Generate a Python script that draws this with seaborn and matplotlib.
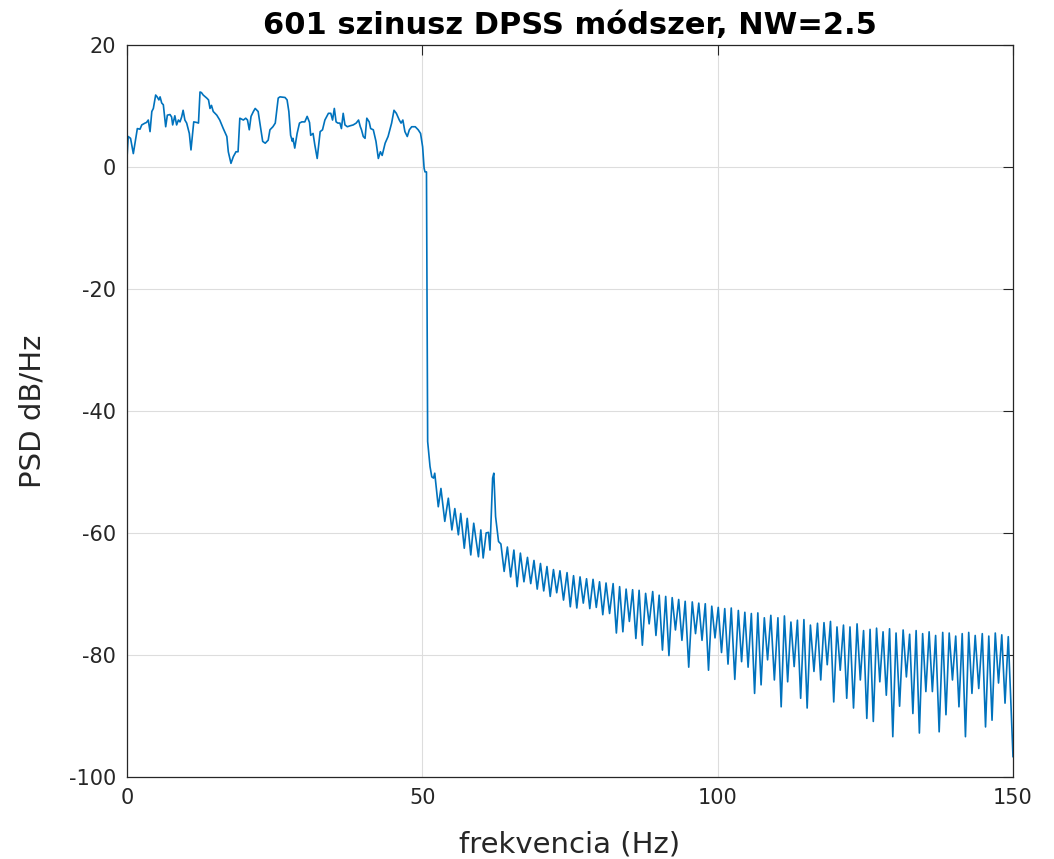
import numpy as np
import pandas as pd
import seaborn as sns
import matplotlib.pyplot as plt

# passband part (0-50 Hz)
flat_f = [0.0, 0.2, 0.6, 1.07, 1.35, 1.75, 2.2, 2.5, 3.05, 3.3, 3.6, 3.9, 4.2, 4.46, 4.85, 5.1, 5.4, 5.6,
          5.87, 6.15, 6.55, 6.83, 7.28, 7.55, 7.73, 8.1, 8.4, 8.7, 8.97, 9.25, 9.5, 9.8, 10.1, 10.55, 10.83,
          11.1, 11.3, 11.8, 12.1, 12.36, 12.6, 12.9, 13.5, 13.8, 14.05, 14.3, 14.6, 15.2, 15.7, 16.3, 16.9,
          17.15, 17.6, 18.0, 18.45, 18.8, 19.1, 19.7, 20.1, 20.4, 20.7, 21.0, 21.4, 21.7, 22.2, 22.6, 22.97,
          23.4, 23.9, 24.2, 24.7, 25.1, 25.6, 25.9, 26.75, 27.1, 27.4, 27.7, 28.0, 28.1, 28.4, 28.8, 29.2,
          29.6, 30.1, 30.5, 30.9, 31.1, 31.5, 31.8, 32.2, 32.7, 33.1, 33.5, 34.1, 34.5, 34.8, 35.1, 35.4,
          35.7, 36.05, 36.3, 36.6, 36.9, 37.3, 37.75, 38.3, 38.8, 39.2, 39.5, 39.7, 40.0, 40.3, 40.6, 41.0,
          41.25, 41.7, 42.15, 42.55, 42.9, 43.2, 43.7, 44.2, 44.8, 45.2, 45.6, 46.1, 46.4, 46.7, 47.05,
          47.45, 47.8, 48.2, 48.8, 49.3, 49.7, 50.05, 50.3, 50.45, 50.7]
flat_db = [1.5, 5.0, 4.7, 2.2, 3.9, 6.3, 6.2, 6.9, 7.2, 7.3, 7.7, 5.8, 9.1, 9.6, 11.8, 11.5, 11.0, 11.5,
           10.5, 10.2, 6.6, 8.5, 8.6, 8.2, 6.9, 8.4, 6.9, 7.7, 7.4, 8.2, 9.3, 7.7, 7.2, 5.5, 2.8,
           5.5, 7.4, 7.3, 7.2, 12.3, 12.2, 11.8, 11.3, 11.0, 9.6, 10.1, 9.1, 8.5, 7.7, 6.3, 5.0,
           2.5, 0.6, 1.7, 2.5, 2.5, 8.0, 7.7, 8.0, 7.7, 6.1, 8.3, 9.1, 9.6, 9.1, 6.6, 4.2,
           3.9, 4.4, 6.1, 6.6, 7.2, 11.3, 11.5, 11.4, 11.0, 9.1, 5.2, 4.2, 4.7, 3.1, 5.5, 7.2,
           7.4, 7.4, 8.3, 7.3, 5.2, 5.5, 3.6, 1.4, 5.8, 6.1, 7.7, 8.8, 8.8, 7.7, 9.6, 7.4,
           7.2, 7.2, 6.3, 8.8, 6.9, 6.6, 6.75, 6.9, 7.2, 7.7, 6.6, 6.1, 5.0, 4.7, 8.0, 7.4,
           6.3, 6.1, 4.2, 1.4, 2.5, 1.9, 3.9, 5.0, 7.2, 9.3, 8.8, 7.7, 7.2, 7.7, 5.8,
           5.0, 6.1, 6.6, 6.6, 6.1, 5.5, 3.3, -0.2, -0.8, -0.8]

# transition band and the 62 Hz spike
edge_f = [50.9, 51.3, 51.6, 51.9, 52.1, 52.7, 53.15, 53.8, 54.4, 55.0, 55.5, 56.1, 56.5, 57.1, 57.6,
          58.2, 58.7, 59.5, 59.9, 60.3, 60.8, 61.2, 61.45, 61.9, 62.1, 62.4, 62.9]
edge_db = [-45.0, -49.1, -50.8, -51.0, -50.2, -55.7, -52.7, -58.1, -54.3, -59.5, -56.0, -60.3, -56.8,
           -62.5, -57.6, -63.6, -58.4, -63.9, -59.5, -64.1, -60.0, -59.9, -62.8, -51.0, -50.2, -57.3, -61.4]

# stopband ripple: peaks
peak_f = [63.3, 64.4, 65.5, 66.6, 67.8, 68.9, 70.0, 71.1, 72.2, 73.3, 74.5, 75.6, 76.7, 77.8, 78.9,
          80.0, 81.1, 82.3, 83.4, 84.5, 85.6, 86.7, 87.8, 89.0, 90.1, 91.2, 92.3, 93.4, 94.5, 95.7,
          96.8, 97.9, 99.0, 100.1, 101.2, 102.3, 103.5, 104.6, 105.7, 106.8, 107.9, 109.0, 110.2,
          111.3, 112.4, 113.5, 114.6, 115.7, 116.9, 118.0, 119.1, 120.2, 121.3, 122.4, 123.6, 124.7,
          125.8, 126.9, 128.0, 129.1, 130.2, 131.4, 132.5, 133.6, 134.7, 135.8, 136.9, 138.1, 139.2,
          140.3, 141.4, 142.5, 143.6, 144.8, 145.9, 147.0, 148.1, 149.2]
peak_db = [-61.8, -62.3, -62.8, -63.3, -64.0, -64.5, -65.0, -65.5, -66.0, -66.2, -66.5, -67.0, -67.2,
           -67.5, -67.6, -68.0, -68.2, -68.3, -68.8, -69.2, -69.3, -69.4, -69.9, -69.6, -70.2, -70.4,
           -70.6, -70.9, -71.2, -71.3, -71.5, -71.6, -72.0, -72.2, -72.4, -72.3, -72.7, -73.0, -73.2,
           -73.1, -73.9, -73.5, -73.9, -73.6, -74.6, -74.3, -74.2, -75.1, -74.8, -74.7, -74.5, -75.4,
           -75.1, -75.4, -74.9, -76.0, -75.8, -75.6, -76.2, -75.7, -76.4, -75.9, -76.6, -76.0, -76.5,
           -76.2, -76.8, -76.3, -76.4, -76.9, -76.5, -76.3, -76.8, -76.5, -76.9, -76.4, -76.7, -77.0]

# stopband ripple: troughs
trough_f = [63.85, 64.95, 66.05, 67.2, 68.35, 69.45, 70.55, 71.65, 72.75, 73.9, 75.05, 76.15, 77.25,
            78.35, 79.45, 80.55, 81.7, 82.85, 83.95, 85.05, 86.15, 87.25, 88.4, 89.55, 90.65, 91.75,
            92.85, 93.95, 95.1, 96.25, 97.35, 98.45, 99.55, 100.65, 101.75, 102.9, 104.05, 105.15,
            106.25, 107.35, 108.45, 109.6, 110.75, 111.85, 112.95, 114.05, 115.15, 116.3, 117.45,
            118.55, 119.65, 120.75, 121.85, 123.0, 124.15, 125.25, 126.35, 127.45, 128.55, 129.65,
            130.8, 131.95, 133.05, 134.15, 135.25, 136.35, 137.5, 138.65, 139.75, 140.85, 141.95,
            143.05, 144.2, 145.35, 146.45, 147.55, 148.65, 150.0]
trough_db = [-66.3, -67.2, -68.8, -68.0, -68.3, -69.2, -69.5, -70.4, -69.8, -71.0, -72.1, -72.3, -71.5,
             -72.4, -72.2, -73.4, -73.2, -76.4, -76.2, -74.5, -77.3, -78.4, -74.9, -76.8, -79.2, -80.1,
             -75.9, -77.6, -82.0, -76.5, -77.6, -82.5, -77.2, -79.6, -81.5, -84.0, -81.1, -82.0,
             -86.3, -84.9, -80.8, -84.1, -88.5, -84.4, -81.9, -87.1, -88.7, -82.7, -84.1,
             -81.6, -87.7, -82.5, -87.1, -88.7, -84.1, -90.4, -90.9, -84.4, -86.6, -93.4,
             -88.4, -83.6, -89.6, -92.8, -86.0, -86.0, -92.6, -89.8, -84.1, -88.5, -93.4,
             -86.3, -85.5, -91.8, -90.7, -84.6, -87.9, -96.7]

df = pd.DataFrame({
    'f': flat_f + edge_f + peak_f + trough_f,
    'psd': flat_db + edge_db + peak_db + trough_db,
}).sort_values('f')

sns.set_style('white')
plt.rcParams['axes.unicode_minus'] = False
plt.rcParams['font.family'] = ['DejaVu Sans']

fig = plt.figure(figsize=(10.54, 8.59), dpi=100)
ax = fig.add_axes([0.1205, 0.0955, 0.8406, 0.8521])
sns.lineplot(data=df, x='f', y='psd', ax=ax, color='#0072BD', linewidth=1.2,
             estimator=None, sort=False, solid_joinstyle='round')

ax.set_xlim(0, 150)
ax.set_ylim(-100, 20)
ax.set_xticks([0, 50, 100, 150])
ax.set_yticks([-100, -80, -60, -40, -20, 0, 20])
ax.grid(True, color='#dddddd', linewidth=0.8)
ax.tick_params(direction='in', length=7, width=0.8, labelsize=15, colors='#262626',
               top=True, right=True, pad=8)
for s in ax.spines.values():
    s.set_color('#262626')
    s.set_linewidth(0.9)

ax.set_xlabel('frekvencia (Hz)', fontsize=21, color='#262626', labelpad=16)
ax.set_ylabel('PSD dB/Hz', fontsize=21, color='#262626', labelpad=16)
ax.set_title('601 szinusz DPSS módszer, NW=2.5', fontsize=22, fontweight='bold',
             color='black', pad=8)

fig.savefig('out.png', dpi=100)
